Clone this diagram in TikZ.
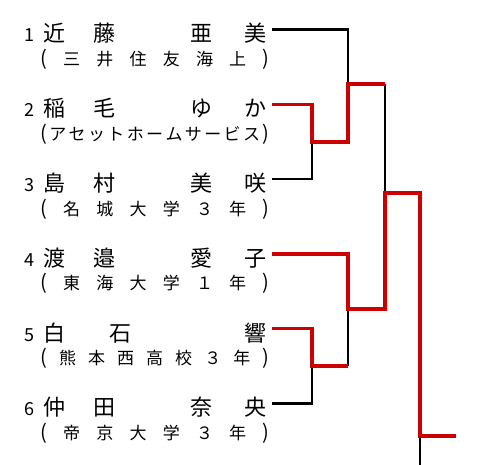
\documentclass[tikz,border=0pt]{standalone}
\usepackage{fontspec}
\setmainfont{Noto Sans CJK JP}
\definecolor{rojo}{RGB}{204,0,0}
\newcommand\pa{{\fontsize{20}{20}\selectfont(}}
\newcommand\pc{{\fontsize{20}{20}\selectfont)}}
\tikzset{
  perdedor/.style={draw=black,line width=2.2pt},
  ganador/.style={draw=rojo,line width=3.4pt},
  num/.style={anchor=base east,inner sep=0pt,font=\fontsize{18}{18}\selectfont},
  nombre/.style={anchor=base west,inner sep=0pt,font=\fontsize{22}{22}\selectfont},
  club/.style={anchor=base west,inner sep=0pt,font=\fontsize{17}{17}\selectfont}
}
\begin{document}
\begin{tikzpicture}[x=1pt,y=-1pt]
\useasboundingbox (0,0) rectangle (480,465);
\foreach \i/\sa/\sb/\sg/\na/\nb/\aff in {
  1/近/藤/28pt/亜/美/{\pa\hfill 三\hfill 井\hfill 住\hfill 友\hfill 海\hfill 上\hfill\pc},
  2/稲/毛/28pt/ゆ/か/{\pa\hfill ア\hfill セ\hfill ッ\hfill ト\hfill ホ\hfill ー\hfill ム\hfill サ\hfill ー\hfill ビ\hfill ス\hfill\pc},
  3/島/村/28pt/美/咲/{\pa\hfill 名\hfill 城\hfill 大\hfill 学\hfill ３\hfill 年\hfill\pc},
  4/渡/邉/28pt/愛/子/{\pa\hfill 東\hfill 海\hfill 大\hfill 学\hfill １\hfill 年\hfill\pc},
  5/白/石/44pt//響/{\pa\hfill 熊\hfill 本\hfill 西\hfill 高\hfill 校\hfill ３\hfill 年\hfill\pc},
  6/仲/田/28pt/奈/央/{\pa\hfill 帝\hfill 京\hfill 大\hfill 学\hfill ３\hfill 年\hfill\pc}}{
  \pgfmathsetmacro\y{29.5+74.8*(\i-1)}
  \node[num] (k\i) at (35,\y+12.5) {\i};
  \node[nombre] (n\i) at (43,\y+12.5) {\makebox[223pt][l]{\sa\hspace{\sg}\sb\hfill\na\hspace{32pt}\nb}};
  \node[club] (a\i) at (40,\y+36) {\makebox[229pt][l]{\aff}};
  \coordinate (e\i) at (272,\y);
}
\coordinate (r23) at (312,142);
\coordinate (r56) at (312,366);
\coordinate (s1) at (348,84);
\coordinate (s4) at (348,309);
\coordinate (f) at (385,193);
\coordinate (g) at (420,436);
\coordinate (fin) at (456,436);
\coordinate (h) at (420,466);
\draw[perdedor] (e1) -| (s1);
\draw[perdedor] (e3) -| (r23);
\draw[perdedor] (e6) -| (r56);
\draw[perdedor] (r56 -| s4) -- (s4);
\draw[perdedor] (s1 -| f) -- (f);
\draw[perdedor] (g) -- (h);
\draw[ganador] (e2) -| (r23) -- (r23 -| s1) -- (s1) -- (s1 -| f);
\draw[ganador] (e5) -| (r56) -- (r56 -| s4);
\draw[ganador] (e4) -| (s4) -- (s4 -| f) -- (f) -- (f -| g) -- (g) -- (fin);
\end{tikzpicture}
\end{document}
